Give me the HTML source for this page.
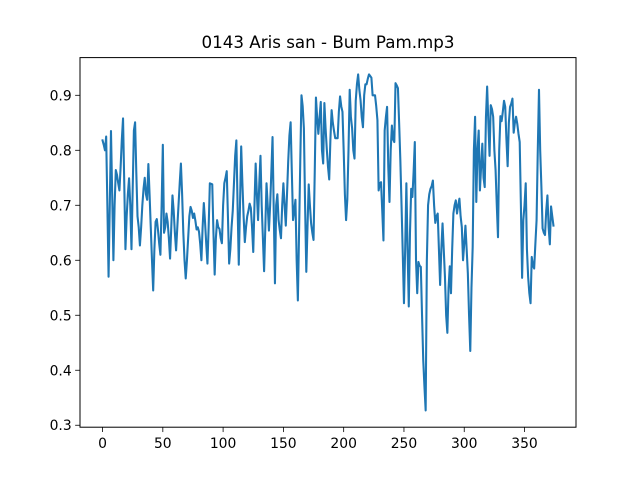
<!DOCTYPE html>
<html><head><meta charset="utf-8"><style>
html,body{margin:0;padding:0;background:#fff;}
svg{display:block;font-family:"DejaVu Sans","Liberation Sans",sans-serif;}
</style></head><body>
<svg id="chart" width="640" height="480" viewBox="0 0 640 480" xmlns="http://www.w3.org/2000/svg">
<rect x="0" y="0" width="640" height="480" fill="#fff"/>
<text x="328" y="48" text-anchor="middle" font-size="16.7" fill="#000">0143 Aris san - Bum Pam.mp3</text>
<g id="xticks"></g>
<g id="yticks"></g>
<path id="series" fill="none" stroke="#1f77b4" stroke-width="2.08" stroke-linejoin="round" stroke-linecap="square"/>
<rect x="80" y="57.6" width="496" height="369.6" fill="none" stroke="#000" stroke-width="1"/>
</svg>
<script>
const values = [
.818,.81,.80,.825,.70,.57,.70,.835,.72,.60,
.70,.764,.755,.74,.727,.77,.82,.858,.74,.62,
.68,.72,.749,.70,.62,.73,.836,.851,.76,.68,
.66,.627,.66,.70,.73,.75,.72,.71,.775,.72,
.66,.60,.545,.62,.67,.675,.655,.63,.61,.70,
.81,.65,.66,.685,.67,.64,.603,.66,.718,.69,
.65,.618,.66,.70,.74,.776,.72,.65,.60,.567,
.60,.64,.68,.697,.69,.677,.685,.672,.656,.66,
.652,.63,.60,.66,.704,.67,.63,.594,.66,.74,
.739,.738,.65,.574,.64,.673,.66,.657,.64,.631,
.70,.74,.75,.762,.68,.594,.62,.66,.69,.74,
.79,.818,.70,.592,.70,.807,.74,.68,.633,.66,
.68,.69,.703,.695,.66,.615,.70,.776,.72,.673,
.74,.79,.70,.64,.58,.66,.74,.70,.654,.70,
.76,.824,.69,.558,.70,.72,.673,.655,.64,.70,
.74,.70,.663,.72,.78,.827,.851,.76,.673,.69,
.71,.60,.527,.65,.78,.90,.88,.84,.70,.579,
.66,.738,.70,.667,.65,.637,.76,.896,.86,.83,
.86,.888,.80,.776,.886,.84,.802,.77,.747,.82,
.873,.85,.835,.822,.822,.822,.87,.898,.88,.87,
.80,.72,.673,.71,.80,.91,.86,.84,.80,.785,
.89,.92,.938,.91,.891,.86,.842,.90,.92,.92,
.93,.938,.935,.932,.90,.90,.90,.88,.855,.727,
.74,.742,.69,.636,.836,.86,.879,.77,.706,.80,
.845,.82,.815,.922,.918,.913,.85,.782,.70,.613,
.522,.62,.74,.62,.516,.65,.73,.715,.76,.815,
.60,.54,.597,.59,.588,.50,.418,.37,.327,.60,
.70,.72,.73,.735,.745,.70,.668,.68,.685,.62,
.555,.62,.667,.62,.57,.50,.468,.55,.589,.54,
.62,.685,.70,.709,.685,.70,.712,.68,.66,.60,
.63,.663,.62,.576,.50,.435,.55,.624,.80,.861,
.706,.80,.836,.727,.77,.812,.75,.733,.86,.916,
.85,.79,.882,.875,.861,.80,.764,.70,.642,.80,
.862,.853,.87,.89,.879,.82,.771,.85,.879,.885,
.894,.832,.85,.861,.848,.83,.815,.70,.568,.673,
.70,.74,.62,.57,.54,.522,.606,.59,.585,.63,
.673,.80,.91,.80,.733,.658,.65,.646,.69,.718,
.66,.629,.698,.68,.663
];
const xTickValues = [0,50,100,150,200,250,300,350];
const yTickValues = [0.3,0.4,0.5,0.6,0.7,0.8,0.9];
const yTickLabels = ["0.3","0.4","0.5","0.6","0.7","0.8","0.9"];

const L=80,R=576,T=57.6,B=427.2;
const n=values.length;
const xmin=-(n-1)*0.05, xmax=(n-1)*1.05;
const vmin=Math.min(...values), vmax=Math.max(...values);
const ymin=vmin-(vmax-vmin)*0.05, ymax=vmax+(vmax-vmin)*0.05;
function sx(v){return L+(v-xmin)/(xmax-xmin)*(R-L);}
function sy(v){return B-(v-ymin)/(ymax-ymin)*(B-T);}
const NS="http://www.w3.org/2000/svg";

let d="";
values.forEach((v,i)=>{d+=(i?"L":"M")+sx(i).toFixed(2)+" "+sy(v).toFixed(2);});
document.getElementById("series").setAttribute("d",d);

const xg=document.getElementById("xticks");
xTickValues.forEach(v=>{
  const x=sx(v);
  const ln=document.createElementNS(NS,"line");
  ln.setAttribute("x1",x);ln.setAttribute("x2",x);ln.setAttribute("y1",B);ln.setAttribute("y2",B+4.86);
  ln.setAttribute("stroke","#000");ln.setAttribute("stroke-width","0.8");
  
  
  xg.appendChild(ln);
  const t=document.createElementNS(NS,"text");
  t.setAttribute("x",x);t.setAttribute("y",B+21);t.setAttribute("text-anchor","middle");
  t.setAttribute("font-size","13.9");t.textContent=String(v);
  
  
  xg.appendChild(t);
});
const yg=document.getElementById("yticks");
yTickValues.forEach((v,i)=>{
  const y=sy(v);
  const ln=document.createElementNS(NS,"line");
  ln.setAttribute("x1",L-4.86);ln.setAttribute("x2",L);ln.setAttribute("y1",y);ln.setAttribute("y2",y);
  ln.setAttribute("stroke","#000");ln.setAttribute("stroke-width","0.8");
  
  
  yg.appendChild(ln);
  const t=document.createElementNS(NS,"text");
  t.setAttribute("x",L-8.3);t.setAttribute("y",y+5);t.setAttribute("text-anchor","end");
  t.setAttribute("font-size","13.9");t.textContent=yTickLabels[i];
  
  
  yg.appendChild(t);
});
</script>
</body></html>
